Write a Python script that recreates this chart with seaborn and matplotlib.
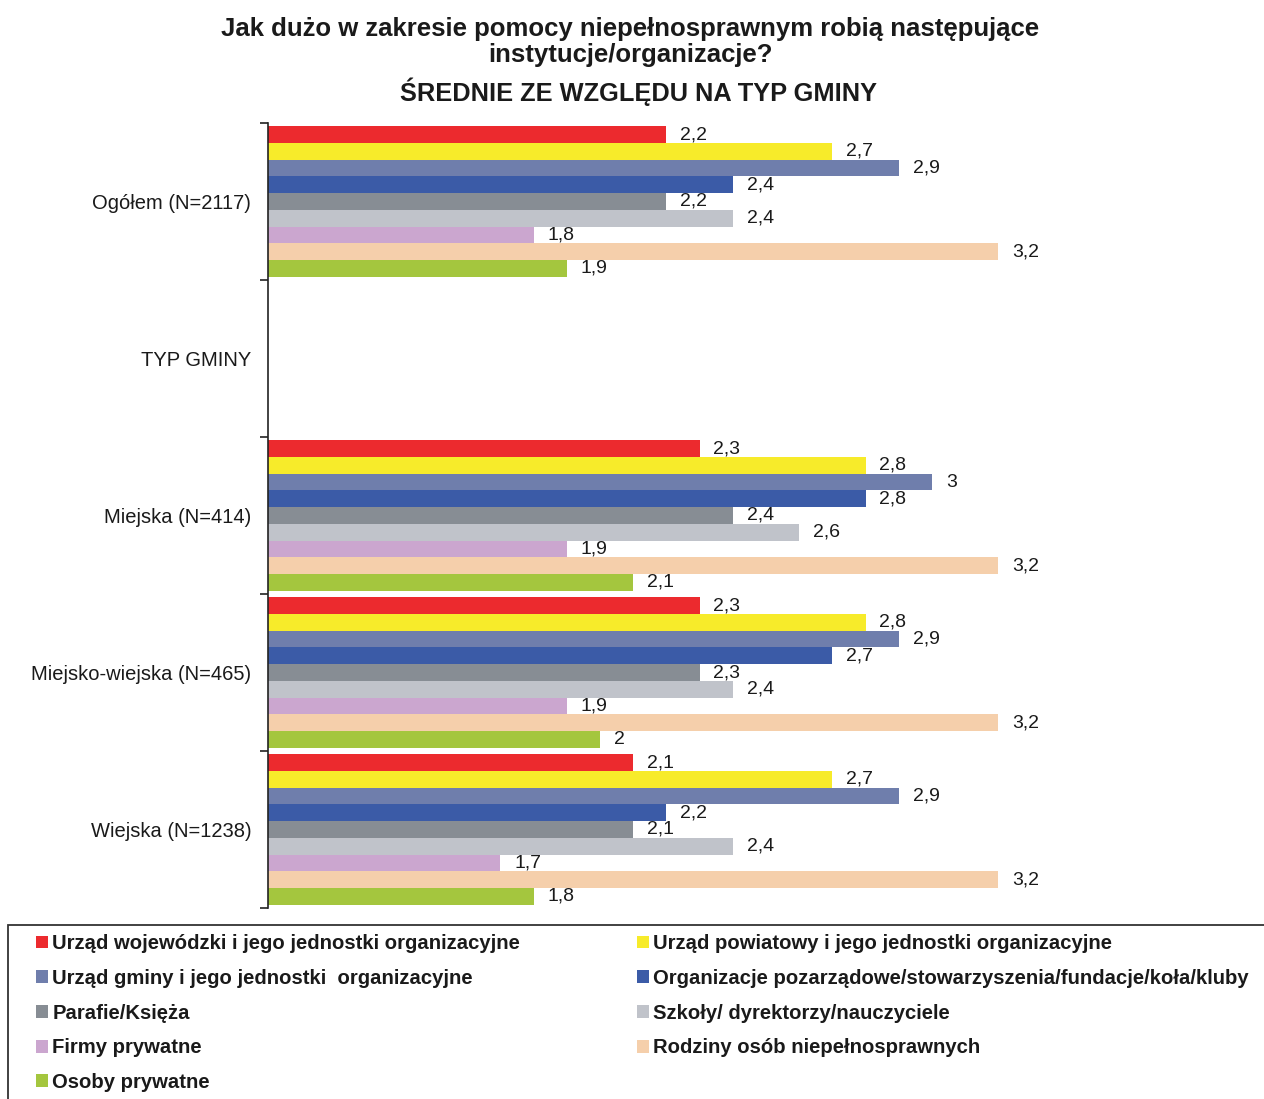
import numpy as np
import pandas as pd
import matplotlib
matplotlib.use("Agg")
import matplotlib.pyplot as plt
import seaborn as sns
from matplotlib.patches import Patch, Rectangle

sns.set_theme(style="white")
plt.rcParams['font.family'] = ['Liberation Sans', 'DejaVu Sans']

categories = ['Ogółem (N=2117)', 'TYP GMINY', 'Miejska (N=414)',
              'Miejsko-wiejska (N=465)', 'Wiejska (N=1238)']
series = ['Urząd wojewódzki i jego jednostki organizacyjne',
          'Urząd powiatowy i jego jednostki organizacyjne',
          'Urząd gminy i jego jednostki  organizacyjne',
          'Organizacje pozarządowe/stowarzyszenia/fundacje/koła/kluby',
          'Parafie/Księża',
          'Szkoły/ dyrektorzy/nauczyciele',
          'Firmy prywatne',
          'Rodziny osób niepełnosprawnych',
          'Osoby prywatne']
colors = ['#EC2A2E', '#F7EB2A', '#6F7EAC', '#3B5BA7', '#878D94',
          '#C0C3CA', '#CBA6CF', '#F5CFAB', '#A4C63E']

ogolem = [2.2, 2.7, 2.9, 2.4, 2.2, 2.4, 1.8, 3.2, 1.9]
typ_gminy = [np.nan] * 9
miejska = [2.3, 2.8, 3.0, 2.8, 2.4, 2.6, 1.9, 3.2, 2.1]
miejsko_wiejska = [2.3, 2.8, 2.9, 2.7, 2.3, 2.4, 1.9, 3.2, 2.0]
wiejska = [2.1, 2.7, 2.9, 2.2, 2.1, 2.4, 1.7, 3.2, 1.8]

rows = []
for cat, vals in zip(categories, [ogolem, typ_gminy, miejska, miejsko_wiejska, wiejska]):
    for s, v in zip(series, vals):
        rows.append({'cat': cat, 'series': s, 'value': v})
df = pd.DataFrame(rows)

fig = plt.figure(figsize=(12.64, 10.99), dpi=100)
W, H = 1264, 1099
ax = fig.add_axes([268 / W, 1 - 908 / H, (1264 - 268) / W, (908 - 123) / H])

sns.barplot(data=df, y='cat', x='value', hue='series', order=categories,
            hue_order=series, palette=colors, orient='h', width=0.96,
            gap=0, dodge=True, errorbar=None, ax=ax, legend=False,
            linewidth=0, saturation=1)

def fmt(v):
    if np.isnan(v):
        return ''
    s = f'{v:.1f}'.replace('.', ',')
    if s.endswith(',0'):
        s = s[:-2]
    return s

for cont in ax.containers:
    labels = [fmt(b.get_width()) if b.get_width() == b.get_width() else '' for b in cont]
    ax.bar_label(cont, labels=labels, padding=10, fontsize=14, color='#1a1a1a')

ax.set_xlim(1, 4)
ax.set_ylim(len(categories) - 0.5, -0.5)
ax.set_xlabel('')
ax.set_ylabel('')
ax.set_xticks([])
for sp in ['top', 'right', 'bottom']:
    ax.spines[sp].set_visible(False)
ax.spines['left'].set_color('#222222')
ax.spines['left'].set_linewidth(1.2)

ax.set_yticks(np.arange(len(categories) + 1) - 0.5)
ax.set_yticklabels([])
ax.tick_params(axis='y', which='major', length=6, width=1.2, color='#222222', left=True)
ax.set_yticks(np.arange(len(categories)), minor=True)
ax.set_yticklabels(categories, minor=True, fontsize=14.5, color='#1a1a1a')
ax.tick_params(axis='y', which='minor', length=0, pad=12, left=True)

fig.text(0.4985, 1 - 42 / H, 'Jak dużo w zakresie pomocy niepełnosprawnym robią następujące\ninstytucje/organizacje?',
         ha='center', va='center', fontsize=18.5, fontweight='bold', linespacing=1.1,
         color='#1a1a1a')
fig.text(0.505, 1 - 92 / H, 'ŚREDNIE ZE WZGLĘDU NA TYP GMINY',
         ha='center', va='center', fontsize=18.3, fontweight='bold', color='#1a1a1a')

# legend frame
fig.add_artist(Rectangle((8 / W, -0.01), (1275 - 8) / W, (1 - 925 / H) + 0.01,
                         transform=fig.transFigure, facecolor='none',
                         edgecolor='#333333', linewidth=1.3, clip_on=False))

handles = [Patch(facecolor=c, edgecolor='none') for c in colors]
order = [0, 2, 4, 6, 8, 1, 3, 5, 7]
leg = fig.legend([handles[i] for i in order], [series[i] for i in order],
                 loc='upper left', bbox_to_anchor=(29 / W, 1 - 927 / H),
                 ncol=2, prop={'weight': 'bold', 'size': 14.6},
                 frameon=False,
                 handlelength=0.6, handleheight=0.6, handletextpad=0.2,
                 labelspacing=0.775, columnspacing=5.75, borderpad=0.35,
                 borderaxespad=0)
for t in leg.get_texts():
    t.set_color('#1a1a1a')

fig.savefig('out.png', dpi=100)
